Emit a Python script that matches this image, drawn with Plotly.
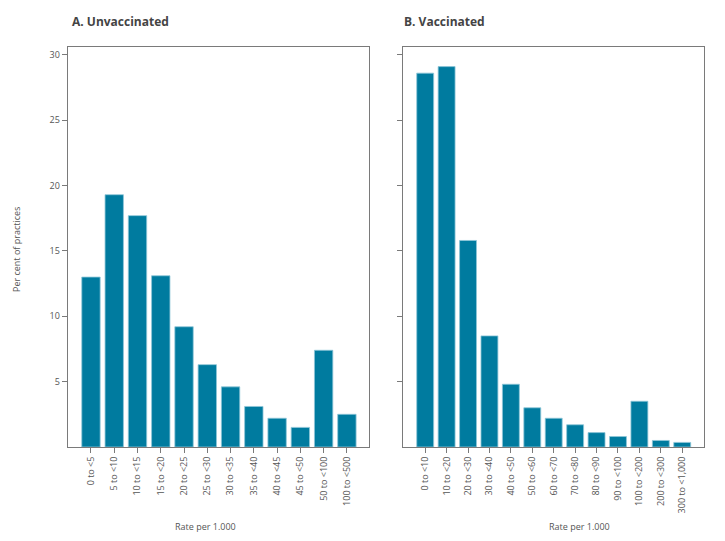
import plotly.graph_objects as go

cats_a = ["0 to <5", "5 to <10", "10 to <15", "15 to <20", "20 to <25", "25 to <30",
          "30 to <35", "35 to <40", "40 to <45", "45 to <50", "50 to <100", "100 to <500"]
vals_a = [13.0, 19.3, 17.7, 13.1, 9.2, 6.3, 4.6, 3.1, 2.2, 1.5, 7.4, 2.5]

cats_b = ["0 to <10", "10 to <20", "20 to <30", "30 to <40", "40 to <50", "50 to <60",
          "60 to <70", "70 to <80", "80 to <90", "90 to <100", "100 to <200", "200 to <300",
          "300 to <1,000"]
vals_b = [28.6, 29.1, 15.8, 8.5, 4.8, 3.0, 2.2, 1.7, 1.1, 0.8, 3.5, 0.5, 0.35]

ytick_vals = [5, 10, 15, 20, 25, 30]

BAR = "#007B9F"
EDGE = "#8fc6d8"
AX = "#7a7a7a"
TXT = "#555555"
FONT = "Open Sans"

fig = go.Figure()
fig.add_trace(go.Bar(x=cats_a, y=vals_a, xaxis="x", yaxis="y",
                     marker=dict(color=BAR, line=dict(color=EDGE, width=0.8)),
                     showlegend=False))
fig.add_trace(go.Bar(x=cats_b, y=vals_b, xaxis="x2", yaxis="y2",
                     marker=dict(color=BAR, line=dict(color=EDGE, width=0.8)),
                     showlegend=False))

# page body has an 8px margin: the figure is drawn at (8, 8)
OFF = 8
W, H = 725 - 2 * OFF, 541 - OFF
def fx(px):
    return (px - OFF) / W
def fy(py):
    return 1 - (py - OFF) / H

common_x = dict(showline=True, linecolor=AX, linewidth=1, mirror=True,
                ticks="outside", ticklen=5, tickcolor=AX, tickwidth=1,
                tickangle=-90, tickfont=dict(family=FONT, size=9, color=TXT),
                showgrid=False, zeroline=False, fixedrange=True)
common_y = dict(showline=True, linecolor=AX, linewidth=1, mirror=True,
                ticks="outside", ticklen=5, tickcolor=AX, tickwidth=1,
                tickvals=ytick_vals, range=[0, 30.6],
                tickfont=dict(family=FONT, size=9, color=TXT),
                showgrid=False, zeroline=False, fixedrange=True)

fig.update_layout(
    width=W, height=H,
    margin=dict(l=0, r=0, t=0, b=0),
    paper_bgcolor="white", plot_bgcolor="white",
    bargap=0.21,
    xaxis=dict(domain=[fx(67.7), fx(369)], range=[-1.0, 11.95], anchor="y", **common_x),
    yaxis=dict(domain=[fy(447), fy(47)], anchor="x", **common_y),
    xaxis2=dict(domain=[fx(402.7), fx(704.3)], range=[-1.05, 13.03], anchor="y2", **common_x),
    yaxis2=dict(domain=[fy(447), fy(47)], anchor="x2", showticklabels=False, **common_y),
    annotations=[
        dict(text="<b>A. Unvaccinated</b>", x=fx(70), y=fy(21), xref="paper", yref="paper",
             xanchor="left", yanchor="middle", showarrow=False,
             font=dict(family=FONT, size=12, color="#444444")),
        dict(text="<b>B. Vaccinated</b>", x=fx(402), y=fy(21), xref="paper", yref="paper",
             xanchor="left", yanchor="middle", showarrow=False,
             font=dict(family=FONT, size=12, color="#444444")),
        dict(text="Per cent of practices", x=fx(17), y=fy(250), xref="paper", yref="paper",
             xanchor="center", yanchor="middle", showarrow=False, textangle=-90,
             font=dict(family=FONT, size=9, color=TXT)),
        dict(text="Rate per 1.000", x=fx(205), y=fy(526), xref="paper", yref="paper",
             xanchor="center", yanchor="middle", showarrow=False,
             font=dict(family=FONT, size=9, color=TXT)),
        dict(text="Rate per 1.000", x=fx(579), y=fy(526), xref="paper", yref="paper",
             xanchor="center", yanchor="middle", showarrow=False,
             font=dict(family=FONT, size=9, color=TXT)),
    ],
)

fig.write_html("out.html")
